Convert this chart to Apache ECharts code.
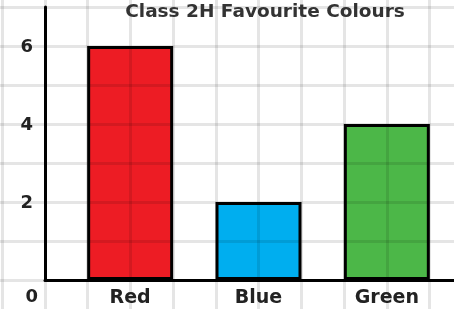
<!DOCTYPE html>
<html>
<head>
<meta charset="utf-8">
<script src="https://cdn.jsdelivr.net/npm/echarts@6/dist/echarts.min.js"></script>
<style>
  html, body { margin: 0; padding: 0; background: #fff; }
  #chart { width: 454px; height: 309px; }
</style>
</head>
<body>
<div id="chart"></div>
<script>
const categories = ["Red", "Blue", "Green"];
const votes = [6, 2, 4];
const barColors = ["#ed1c24", "#00aeef", "#4cb748"];
const yTicks = [0, 2, 4, 6];

const chart = echarts.init(document.getElementById("chart"));

const font = "DejaVu Sans, sans-serif";
const gridLine = { color: "#000", opacity: 0.1, width: 3 };
const hidden = { axisLine: { show: false }, axisTick: { show: false }, axisLabel: { show: false } };

const option = {
  animation: false,
  title: {
    text: "Class 2H Favourite Colours",
    left: 260,
    textAlign: "center",
    top: -2,
    textStyle: { fontFamily: font, fontSize: 18.5, fontWeight: "bold", color: "#333" },
  },
  grid: [
    // squared paper: horizontal lines
    { left: 0, right: 0, top: 7, bottom: 29 },
    // squared paper: vertical lines
    { left: 2, right: 24.5, top: 0, bottom: 0 },
    // axes
    { left: 45, right: 0, top: 7, bottom: 29 },
    // bars
    { left: 66, right: 3, top: 7, bottom: 29 },
  ],
  xAxis: [
    { gridIndex: 0, type: "value", min: 0, max: 1, z: 3, ...hidden, splitLine: { show: false } },
    { gridIndex: 1, type: "value", min: 0, max: 10, interval: 1, z: 3, ...hidden, splitLine: { lineStyle: gridLine } },
    {
      gridIndex: 2, type: "value", min: 0, max: 1, z: 4,
      axisLine: { lineStyle: { color: "#000", width: 3 } },
      axisTick: { show: false }, axisLabel: { show: false }, splitLine: { show: false },
    },
    {
      gridIndex: 3, type: "category", data: categories, z: 4,
      axisLine: { show: false }, axisTick: { show: false },
      axisLabel: { margin: 9, fontFamily: font, fontSize: 19, fontWeight: "bold", color: "#222" },
    },
  ],
  yAxis: [
    { gridIndex: 0, type: "value", min: 0, max: 7, interval: 1, z: 3, ...hidden, splitLine: { lineStyle: gridLine } },
    { gridIndex: 1, type: "value", min: 0, max: 1, z: 3, ...hidden, splitLine: { show: false } },
    {
      gridIndex: 2, type: "value", min: 0, max: 7, interval: 1, z: 4,
      axisLine: { show: true, lineStyle: { color: "#000", width: 3 } },
      axisTick: { show: false }, splitLine: { show: false },
      axisLabel: {
        margin: 7,
        formatter: (v) => (v === 0 ? "{z|0}" : yTicks.includes(v) ? "{n|" + v + "}" : ""),
        rich: {
          n: { fontFamily: font, fontSize: 18, fontWeight: "bold", color: "#222", padding: [2, 5, 0, 0] },
          z: { fontFamily: font, fontSize: 18, fontWeight: "bold", color: "#222", padding: [34, 0, 0, 0] },
        },
      },
    },
    { gridIndex: 3, type: "value", min: 0, max: 7, show: false },
  ],
  series: [
    {
      type: "bar",
      xAxisIndex: 3,
      yAxisIndex: 3,
      barWidth: 86,
      z: 2,
      data: votes.map((v, i) => ({
        value: v,
        itemStyle: { color: barColors[i], borderColor: "#000", borderWidth: 3 },
      })),
    },
  ],
};

chart.setOption(option);
</script>
</body>
</html>
